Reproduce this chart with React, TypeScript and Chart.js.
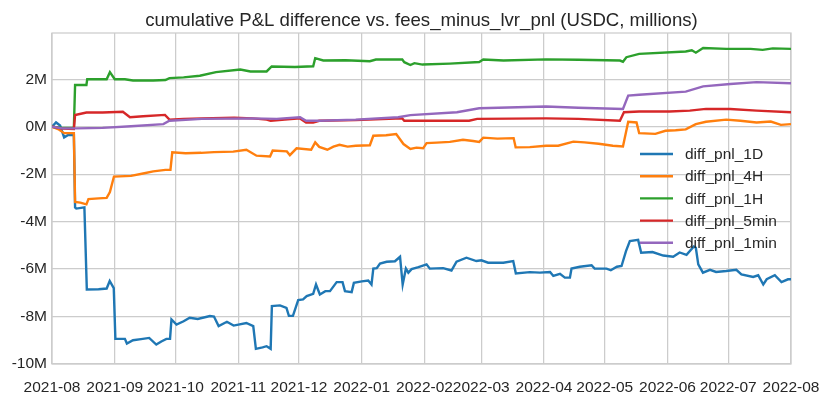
import { useEffect, useRef } from "react";
import Chart from "chart.js/auto";

// x values are days since 2021-08-01, y values in millions USDC
const monthDays = [0, 31, 61, 92, 122, 153, 184, 212, 243, 273, 304, 334, 365];
const monthLabels = [
  "2021-08", "2021-09", "2021-10", "2021-11", "2021-12", "2022-01", "2022-02",
  "2022-03", "2022-04", "2022-05", "2022-06", "2022-07", "2022-08",
];
const yTicks = [-10, -8, -6, -4, -2, 0, 2];

const pnl1D: [number, number][] = [
  [0, 0], [2, 0.18], [4, 0.05], [6, -0.45], [8, -0.35], [10.8, -0.35], [11.4, -3.4], [12, -3.45],
  [16, -3.4], [17.2, -6.86], [23, -6.85], [27, -6.82], [28.5, -6.5], [30.5, -6.8], [31.3, -8.94],
  [36, -8.94], [37, -9.14], [40, -9.0], [44, -8.95], [48, -8.9], [51.5, -9.18], [54, -9.05],
  [56.5, -8.94], [58.3, -8.94], [59, -8.12], [61.5, -8.34], [65, -8.2], [68, -8.05], [72, -8.1],
  [78, -7.98], [80, -8.0], [82.3, -8.4], [86.4, -8.22], [89.7, -8.38], [96, -8.27], [99.4, -8.4],
  [100.7, -9.36], [104, -9.3], [106, -9.25], [108, -9.36], [108.6, -7.56], [112.6, -7.53],
  [115.8, -7.64], [117, -7.97], [119, -7.97], [121.6, -7.31], [124, -7.28], [125.8, -7.14],
  [129, -7.04], [130.4, -6.65], [132.3, -7.07], [135, -6.93], [137.3, -6.93], [140.6, -6.55],
  [143.5, -6.55], [144.7, -6.93], [148, -6.97], [149.1, -6.58], [153, -6.52], [156.2, -6.48],
  [157.8, -6.65], [158.7, -5.98], [160.4, -5.96], [162, -5.77], [165.3, -5.69], [169.4, -5.67],
  [171.9, -5.48], [173.2, -6.65], [174.8, -5.98], [176, -6.15], [177.6, -6.0], [181, -5.92],
  [185, -5.8], [186.6, -5.98], [193.2, -5.96], [197.3, -6.06], [199.8, -5.69], [204.7, -5.52],
  [209.6, -5.66], [212.1, -5.63], [215.4, -5.73], [222.9, -5.73], [227.8, -5.66], [229.1, -6.18],
  [236, -6.13], [241, -6.15], [246, -6.12], [247.6, -6.29], [250.9, -6.2], [253.3, -6.36],
  [255.8, -6.36], [256.6, -5.98], [260.7, -5.9], [266.5, -5.84], [268, -5.98], [273.9, -5.98],
  [276, -6.05], [279, -5.9], [281.3, -5.87], [283.5, -5.24], [285.4, -4.82], [289.5, -4.77],
  [291, -5.31], [296.6, -5.28], [301.9, -5.43], [306.8, -5.48], [310, -5.3], [313.4, -5.4],
  [317, -5.05], [318, -5.1], [319.2, -5.8], [321.5, -6.15], [325, -6.03], [328, -6.12],
  [333, -6.08], [338, -6.03], [340.5, -6.22], [346.3, -6.33], [348.8, -6.26], [351.3, -6.65],
  [353, -6.43], [357, -6.26], [360.3, -6.55], [363.5, -6.43], [365, -6.43],
];

const pnl4H: [number, number][] = [
  [0, 0], [3, -0.1], [6, -0.27], [10.8, -0.27], [11.4, -3.17], [14, -3.2], [17, -3.27],
  [18, -3.05], [23, -3.02], [27, -3.0], [28.6, -2.75], [30.6, -2.1], [39, -2.07], [45, -1.97],
  [50, -1.88], [56, -1.82], [58.5, -1.82], [59.4, -1.08], [66, -1.12], [73.7, -1.1], [80, -1.07],
  [89.5, -1.05], [96, -0.97], [101, -1.22], [107.7, -1.25], [109, -1.0], [116, -1.04],
  [117.5, -1.2], [120.8, -0.91], [128, -0.97], [130, -0.66], [132, -0.85], [136, -0.97],
  [139, -0.84], [142, -0.76], [146, -0.84], [150, -0.8], [157, -0.78], [158.7, -0.38],
  [165, -0.36], [170, -0.31], [173.6, -0.73], [177, -0.94], [180, -0.88], [183.3, -0.91],
  [185, -0.69], [190, -0.67], [196.5, -0.64], [203, -0.55], [208, -0.6], [211, -0.64],
  [213, -0.46], [220, -0.5], [228, -0.48], [229, -0.87], [236, -0.86], [244, -0.8], [250, -0.8],
  [257.5, -0.63], [263, -0.66], [270, -0.72], [277, -0.8], [282, -0.83], [284.6, 0.21],
  [288.7, 0.18], [290, -0.27], [298, -0.3], [303, -0.17], [308, -0.15], [313, -0.11],
  [318, 0.11], [323, 0.21], [333, 0.3], [340, 0.25], [348, 0.18], [355, 0.22], [360, 0.08],
  [365, 0.11],
];

const pnl1H: [number, number][] = [
  [0, 0], [5, -0.05], [10.8, -0.05], [11.4, 1.76], [17, 1.76], [17.4, 2.0], [27, 2.0],
  [28.6, 2.3], [31, 2.0], [36, 2.0], [40, 1.95], [50, 1.95], [56, 1.97], [58, 2.05], [65, 2.08],
  [73, 2.15], [81, 2.3], [93, 2.41], [98, 2.33], [106, 2.33], [108.5, 2.54], [120, 2.52],
  [129, 2.55], [130, 2.89], [134, 2.79], [145, 2.8], [157, 2.76], [160, 2.83], [173, 2.83],
  [174, 2.72], [177, 2.6], [179, 2.68], [183, 2.62], [196.5, 2.66], [211, 2.73], [213, 2.83],
  [223, 2.79], [244, 2.84], [260, 2.82], [280.5, 2.79], [282, 2.74], [283.7, 2.93], [290, 3.07],
  [313, 3.17], [316, 3.22], [318, 3.12], [321.6, 3.32], [333, 3.28], [345, 3.28], [351, 3.24],
  [356, 3.3], [365, 3.28],
];

const pnl5min: [number, number][] = [
  [0, 0], [5, -0.08], [10.8, -0.1], [11.4, 0.49], [17, 0.6], [25, 0.6], [35, 0.63], [38.5, 0.4],
  [45, 0.44], [55.8, 0.5], [58, 0.3], [65, 0.33], [74, 0.35], [90, 0.38], [99, 0.35], [106, 0.3],
  [108, 0.25], [115, 0.3], [122.5, 0.35], [125.5, 0.18], [129, 0.18], [132, 0.25], [150, 0.28],
  [173, 0.35], [174, 0.25], [190, 0.25], [206, 0.25], [210, 0.33], [244, 0.35], [260, 0.33],
  [280.5, 0.25], [282.5, 0.61], [290, 0.64], [305, 0.64], [315, 0.68], [323, 0.75], [335, 0.75],
  [348, 0.68], [365, 0.61],
];

const pnl1min: [number, number][] = [
  [0, 0], [5, -0.07], [12, -0.07], [25, -0.05], [39, 0.02], [55, 0.11], [58, 0.25], [74, 0.33],
  [99, 0.35], [111, 0.33], [122.5, 0.4], [125.5, 0.25], [132, 0.25], [150, 0.3], [171, 0.4],
  [177, 0.49], [200, 0.61], [211, 0.78], [230, 0.82], [244, 0.85], [260, 0.8], [282, 0.75],
  [284.6, 1.31], [290, 1.35], [313, 1.48], [321.6, 1.7], [335, 1.8], [348, 1.88], [365, 1.83],
];

const seriesNames = ["diff_pnl_1D", "diff_pnl_4H", "diff_pnl_1H", "diff_pnl_5min", "diff_pnl_1min"];
const seriesData = [pnl1D, pnl4H, pnl1H, pnl5min, pnl1min];
const seriesColors = ["#1f77b4", "#ff7f0e", "#2ca02c", "#d62728", "#9467bd"];

const FONT = "'Liberation Sans', Arial, sans-serif";
const TEXT = "#262626";
const GRID = "#cccccc";

const decor = {
  id: "decor",
  beforeDatasetsDraw(chart: Chart) {
    const { ctx, chartArea: a } = chart;
    ctx.save();
    ctx.strokeStyle = GRID;
    ctx.lineWidth = 1.25;
    ctx.strokeRect(a.left, a.top, a.right - a.left, a.bottom - a.top);
    ctx.restore();
  },
  afterDatasetsDraw(chart: Chart) {
    const { ctx, chartArea: a } = chart;
    ctx.save();
    // title
    ctx.fillStyle = TEXT;
    ctx.font = `18.6px ${FONT}`;
    ctx.textAlign = "center";
    ctx.textBaseline = "alphabetic";
    ctx.fillText("cumulative P&L difference vs. fees_minus_lvr_pnl (USDC, millions)", (a.left + a.right) / 2, 26);
    // legend, no frame, drawn over the lines
    ctx.font = `15.5px ${FONT}`;
    ctx.textAlign = "left";
    ctx.textBaseline = "middle";
    const x0 = a.right - 151;
    chart.data.datasets.forEach((ds, i) => {
      const y = a.top + 121 + i * 22.2;
      ctx.strokeStyle = ds.borderColor as string;
      ctx.lineWidth = 2.4;
      ctx.beginPath();
      ctx.moveTo(x0, y);
      ctx.lineTo(x0 + 33, y);
      ctx.stroke();
      ctx.fillStyle = TEXT;
      ctx.fillText(ds.label as string, x0 + 45, y + 1);
    });
    ctx.restore();
  },
};

export default function App() {
  const chartRef = useRef<HTMLCanvasElement>(null);

  useEffect(() => {
    if (!chartRef.current) return;
    const chart = new Chart(chartRef.current, {
      type: "line",
      data: {
        datasets: seriesNames.map((name, i) => ({
          label: name,
          data: seriesData[i].map(([x, y]) => ({ x, y })),
          borderColor: seriesColors[i],
          backgroundColor: seriesColors[i],
          borderWidth: 2.4,
          pointRadius: 0,
          tension: 0,
          order: seriesNames.length - i,
        })),
      },
      options: {
        animation: false,
        responsive: true,
        maintainAspectRatio: false,
        layout: { padding: { top: 33, right: 40, left: 0, bottom: 0 } },
        plugins: {
          legend: { display: false },
          title: { display: false },
          tooltip: { enabled: false },
        },
        scales: {
          x: {
            type: "linear",
            min: 0,
            max: 365,
            afterBuildTicks: (scale) => {
              scale.ticks = monthDays.map((v) => ({ value: v }));
            },
            afterFit: (scale) => {
              scale.height = 42;
              scale.paddingLeft = 0;
              scale.paddingRight = 0;
            },
            ticks: {
              autoSkip: false,
              maxRotation: 0,
              minRotation: 0,
              padding: 14,
              color: TEXT,
              font: { family: FONT, size: 15.5 },
              callback: (v) => monthLabels[monthDays.indexOf(Number(v))] ?? "",
            },
            grid: { color: GRID, lineWidth: 1.25, drawTicks: false },
            border: { display: false },
          },
          y: {
            min: -10,
            max: 3.95,
            afterBuildTicks: (scale) => {
              scale.ticks = yTicks.map((v) => ({ value: v }));
            },
            afterFit: (scale) => {
              scale.width = 52;
            },
            ticks: {
              padding: 5,
              color: TEXT,
              font: { family: FONT, size: 15.5 },
              callback: (v) => `${v}M`,
            },
            grid: { color: GRID, lineWidth: 1.25, drawTicks: false },
            border: { display: false },
          },
        },
      },
      plugins: [decor],
    });
    return () => chart.destroy();
  }, []);

  return (
    <div style={{ position: "fixed", left: 0, top: 0, width: 831, height: 406, background: "#fff" }}>
      <canvas ref={chartRef} />
    </div>
  );
}
